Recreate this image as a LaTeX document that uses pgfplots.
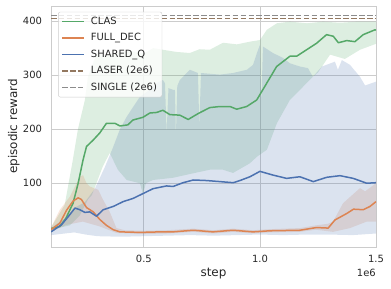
\documentclass[border=0pt]{standalone}
\usepackage{pgfplots}
\pgfplotsset{compat=1.18}
\usepgfplotslibrary{fillbetween}
\usepackage{fontspec}
\setmainfont{DejaVu Sans}
\definecolor{cgreen}{HTML}{55A868}
\definecolor{corange}{HTML}{DD8452}
\definecolor{cblue}{HTML}{4C72B0}
\definecolor{cbrown}{HTML}{937860}
\definecolor{cgray}{HTML}{8C8C8C}
\definecolor{txt}{HTML}{262626}
\definecolor{gridc}{HTML}{CCCCCC}
\begin{document}
\begin{tikzpicture}
\begin{axis}[
  at={(51bp,42bp)}, anchor=south west,
  scale only axis, width=325bp, height=241bp,
  xmin=0.1, xmax=1.5, ymin=-18, ymax=428,
  xtick={0.5,1.0,1.5}, xticklabels={0.5,1.0,1.5},
  ytick={100,200,300,400}, yticklabels={100,200,300,400},
  /pgf/number format/assume math mode=true,
  major tick length=0,
  grid=major, major grid style={gridc, line width=0.8bp},
  axis line style={gridc, line width=0.8bp},
  tick label style={font=\fontsize{10}{12}\selectfont, text=txt},
  xticklabel style={yshift=-4.5bp},
  yticklabel style={xshift=-5.5bp},
  xlabel={step}, ylabel={episodic reward},
  label style={font=\fontsize{12}{14}\selectfont, text=txt},
  xlabel style={at={(axis description cs:0.5,-0.112)}, anchor=center},
  ylabel style={at={(axis description cs:-0.114,0.5)}, anchor=center},
  legend cell align=left,
  legend image code/.code={\draw[#1, line width=1.6bp] (0bp,0bp) -- (22bp,0bp);},
  legend style={at={(axis description cs:0.022,0.976)}, anchor=north west,
    draw=gridc, fill=white, fill opacity=0.8, text opacity=1, draw opacity=1,
    rounded corners=2bp, font=\fontsize{10}{12}\selectfont, text=txt,
    inner xsep=3bp, inner ysep=3bp, row sep=3.6bp,
    /tikz/every odd column/.append style={column sep=4bp}},
  line join=round,
]
% ---- bands ----
\addplot[name path=gU, draw=none, forget plot] coordinates {(0.1,18)(0.159,60)(0.194,143)(0.216,200)(0.246,254)(0.259,297)(0.297,341)(0.33,336)(0.353,338)(0.40,342)(0.44,345)(0.50,340)(0.54,350)(0.582,347)(0.64,343)(0.698,341)(0.74,348)(0.784,347)(0.841,360)(0.901,357)(0.957,362)(1.0,365)(1.03,384)(1.073,396)(1.129,399)(1.203,396)(1.272,399)(1.345,397)(1.418,399)(1.5,399)};
\addplot[name path=gL, draw=none, forget plot] coordinates {(0.1,14)(0.181,22)(0.224,40)(0.259,70)(0.276,78)(0.323,131)(0.353,156)(0.388,125)(0.426,106)(0.483,100)(0.496,80)(0.509,100)(0.539,106)(0.625,110)(0.698,117)(0.784,125)(0.841,125)(0.884,119)(0.957,137)(0.987,149)(1.03,162)(1.073,211)(1.129,254)(1.228,297)(1.25,305)(1.302,338)(1.366,330)(1.431,347)(1.5,358)};
\addplot[fill=cgreen, fill opacity=0.2, draw=none, forget plot] fill between[of=gU and gL];

\addplot[name path=oU, draw=none, forget plot] coordinates {(0.1,18)(0.138,51)(0.181,75)(0.224,112)(0.238,115)(0.253,100)(0.267,94)(0.303,88)(0.325,69)(0.353,47)(0.382,17)(0.418,13)(0.5,12)(0.6,13)(0.713,16)(0.8,13)(0.884,16)(0.97,13)(1.043,15)(1.172,17)(1.241,22)(1.293,25)(1.315,29)(1.358,63)(1.431,91)(1.453,85)(1.5,100)};
\addplot[name path=oL, draw=none, forget plot] coordinates {(0.1,10)(0.167,23)(0.237,29)(0.31,20)(0.382,8)(0.5,6)(0.6,7)(0.713,10)(0.8,7)(0.884,10)(0.97,7)(1.043,9)(1.172,10)(1.241,14)(1.315,10)(1.388,17)(1.46,29)(1.5,29)};
\addplot[fill=corange, fill opacity=0.2, draw=none, forget plot] fill between[of=oU and oL];

\addplot[name path=bU, draw=none, forget plot] coordinates {(0.1,17)(0.159,35)(0.203,55)(0.246,65)(0.289,90)(0.332,130)(0.366,165)(0.397,200)(0.426,223)(0.483,260)(0.513,269)(0.556,286)(0.582,291)(0.591,285)(0.598,193)(0.606,276)(0.625,273)(0.634,273)(0.638,186)(0.644,280)(0.655,291)(0.698,310)(0.733,304)(0.739,205)(0.746,304)(0.828,301)(0.884,304)(0.944,310)(0.970,319)(0.987,341)(1.0,356)(1.006,249)(1.013,353)(1.056,341)(1.099,332)(1.129,322)(1.172,316)(1.207,313)(1.228,297)(1.267,316)(1.323,325)(1.336,310)(1.353,328)(1.388,319)(1.431,297)(1.453,281)(1.487,286)(1.5,288)};
\addplot[name path=bL, draw=none, forget plot] coordinates {(0.1,4)(0.2,9)(0.25,5)(0.3,2)(0.4,1)(0.5,2)(0.6,3)(0.7,4)(0.8,3)(0.9,4)(1.0,5)(1.1,4)(1.2,5)(1.3,5)(1.4,4)(1.5,7)};
\addplot[fill=cblue, fill opacity=0.2, draw=none, forget plot] fill between[of=bU and bL];

% ---- lines ----
\addplot[cgreen, line width=1.5bp] coordinates {(0.1,16)(0.138,20)(0.164,35)(0.195,63)(0.217,100)(0.238,143)(0.253,168)(0.282,180)(0.31,193)(0.339,211)(0.375,211)(0.397,206)(0.431,208)(0.453,217)(0.496,222)(0.526,230)(0.555,231)(0.582,235)(0.612,227)(0.655,226)(0.691,218)(0.734,229)(0.784,240)(0.828,242)(0.871,242)(0.9,237)(0.943,242)(0.986,254)(1.029,285)(1.072,316)(1.129,335)(1.158,335)(1.201,347)(1.244,359)(1.287,375)(1.316,372)(1.338,360)(1.374,364)(1.409,362)(1.445,375)(1.496,384)(1.5,383)};
\addlegendentry{CLAS}
\addplot[corange, line width=1.5bp] coordinates {(0.1,14)(0.138,26)(0.167,50)(0.195,67)(0.217,73)(0.231,70)(0.253,55)(0.282,47)(0.31,33)(0.339,22)(0.368,14)(0.397,10)(0.483,9)(0.569,10)(0.625,10)(0.713,13)(0.797,10)(0.884,13)(0.97,10)(1.043,12)(1.172,13)(1.244,18)(1.294,17)(1.323,32)(1.374,44)(1.403,52)(1.445,51)(1.474,57)(1.5,66)};
\addlegendentry{FULL\_DEC}
\addplot[cblue, line width=1.5bp] coordinates {(0.1,10)(0.145,23)(0.174,38)(0.203,54)(0.224,51)(0.246,46)(0.267,47)(0.296,39)(0.325,51)(0.368,57)(0.411,66)(0.454,72)(0.497,81)(0.54,90)(0.598,95)(0.626,94)(0.669,101)(0.713,106)(0.77,105)(0.828,103)(0.885,101)(0.914,105)(0.957,112)(1.0,122)(1.057,115)(1.115,109)(1.172,112)(1.23,103)(1.288,111)(1.345,114)(1.402,109)(1.46,100)(1.5,101)};
\addlegendentry{SHARED\_Q}
\addplot[cbrown, line width=1.5bp, dash pattern=on 5.5bp off 2.4bp] coordinates {(0.1,405)(1.5,405)};
\addlegendentry{LASER (2e6)}
\addplot[cgray, line width=1.5bp, dash pattern=on 5.5bp off 2.4bp] coordinates {(0.1,410)(1.5,410)};
\addlegendentry{SINGLE (2e6)}
\end{axis}
\node[anchor=north east, inner sep=0, font=\fontsize{10}{12}\selectfont, text=txt] at (376bp,20bp) {1e6};
\pgfresetboundingbox
\useasboundingbox (0,0) rectangle (391bp,289bp);
\end{tikzpicture}
\end{document}
